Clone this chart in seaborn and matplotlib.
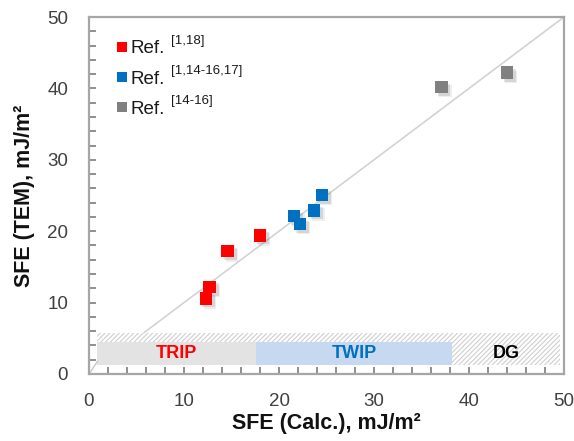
import matplotlib
matplotlib.use("Agg")
import matplotlib.pyplot as plt
import matplotlib.patheffects as pe
from matplotlib.patches import Rectangle
import seaborn as sns
import pandas as pd

# Measured vs calculated stacking-fault energy, grouped by source
calc_red = [12.3, 12.7, 14.6, 18.0]
tem_red = [10.6, 12.2, 17.2, 19.4]
calc_blue = [21.6, 22.2, 23.7, 24.5]
tem_blue = [22.1, 21.0, 22.9, 25.1]
calc_gray = [37.1, 44.0]
tem_gray = [40.2, 42.2]

sources = ["[1,18]", "[1,14-16,17]", "[14-16]"]
source_colors = ["#FF0000", "#0070C0", "#808080"]

# Deformation-mechanism regimes along the calculated SFE axis
regimes = ["TRIP", "TWIP", "DG"]
regime_edges = [0.8, 17.6, 38.2, 49.6]
regime_fill = ["#E3E3E3", "#C6D9F0", None]
regime_text = ["#FF0000", "#0070C0", "#000000"]

df = pd.DataFrame({
    "calc": calc_red + calc_blue + calc_gray,
    "tem": tem_red + tem_blue + tem_gray,
    "source": [sources[0]] * len(calc_red) + [sources[1]] * len(calc_blue)
              + [sources[2]] * len(calc_gray),
})

sns.set_theme(style="white")
plt.rcParams.update({
    "font.family": ["Liberation Sans", "DejaVu Sans"],
    "hatch.linewidth": 0.8,
})

fig = plt.figure(figsize=(5.74, 4.41), dpi=100)
ax = fig.add_axes([89 / 574, 1 - 374 / 441, 475 / 574, 357 / 441])
ax.set_xlim(0, 50)
ax.set_ylim(0, 50)

# hatched floor band with the regime boxes in front
ax.add_patch(Rectangle((regime_edges[0], 1.2), regime_edges[-1] - regime_edges[0], 4.6,
                       facecolor="white", edgecolor="#CFCFCF", hatch="///////",
                       linewidth=0, zorder=1))
for i, name in enumerate(regimes):
    lo, hi = regime_edges[i], regime_edges[i + 1]
    if regime_fill[i] is not None:
        ax.add_patch(Rectangle((lo, 1.2), hi - lo, 3.3, facecolor=regime_fill[i],
                               edgecolor="none", zorder=2))
    ax.text((lo + hi) / 2 if i < 2 else 43.9, 2.9, name, color=regime_text[i],
            fontsize=13, fontweight="bold", ha="center", va="center", zorder=3)

# floor corner edge and parity line
ax.plot([0, 0.9], [0, 1.8], color="#C8C8C8", lw=1.0, zorder=2, clip_on=False)
ax.plot([5.8, 50], [5.8, 50], color="#D3D3D3", lw=1.2, zorder=2)

shadow = [pe.SimplePatchShadow(offset=(3, -3), shadow_rgbFace="#777777", alpha=0.12),
          pe.SimplePatchShadow(offset=(2, -2), shadow_rgbFace="#666666", alpha=0.18),
          pe.Normal()]
sns.scatterplot(data=df, x="calc", y="tem", hue="source", hue_order=sources,
                palette=source_colors, marker="s", s=80, linewidth=0,
                legend=False, ax=ax, zorder=4)
for coll in ax.collections:
    coll.set_path_effects(shadow)

# legend drawn as squares with superscript reference labels
leg_y = [0.917, 0.831, 0.747]
for ref, col, yy in zip(sources, source_colors, leg_y):
    ax.scatter([0.069], [yy], transform=ax.transAxes, marker="s", s=62,
               color=col, linewidth=0, zorder=5, clip_on=False)
    ax.text(0.088, yy - 0.018, "Ref.", transform=ax.transAxes, fontsize=13.5,
            color="#1A1A1A", va="baseline", ha="left")
    ax.text(0.172, yy + 0.008, ref, transform=ax.transAxes, fontsize=9.5,
            color="#1A1A1A", va="baseline", ha="left")

ax.set_xticks(range(0, 51, 10))
ax.set_yticks(range(0, 51, 10))
ax.set_xticks(range(0, 51, 2), minor=True)
ax.set_yticks(range(0, 51, 2), minor=True)
ax.tick_params(axis="both", which="both", direction="in", colors="#707070",
               bottom=True, left=True, length=5, width=1.1)
ax.tick_params(axis="both", which="major", labelsize=13.5, labelcolor="#404040")
ax.tick_params(axis="x", which="major", pad=14)
ax.tick_params(axis="y", which="major", pad=15)

for sp in ax.spines.values():
    sp.set_color("#A6A6A6")
    sp.set_linewidth(1.6)

ax.set_xlabel("SFE (Calc.), mJ/m²", fontsize=15.5, fontweight="bold", color="#111111",
              labelpad=2)
ax.set_ylabel("SFE (TEM), mJ/m²", fontsize=15.5, fontweight="bold", color="#111111",
              labelpad=9)

fig.savefig("out.png", dpi=100)
